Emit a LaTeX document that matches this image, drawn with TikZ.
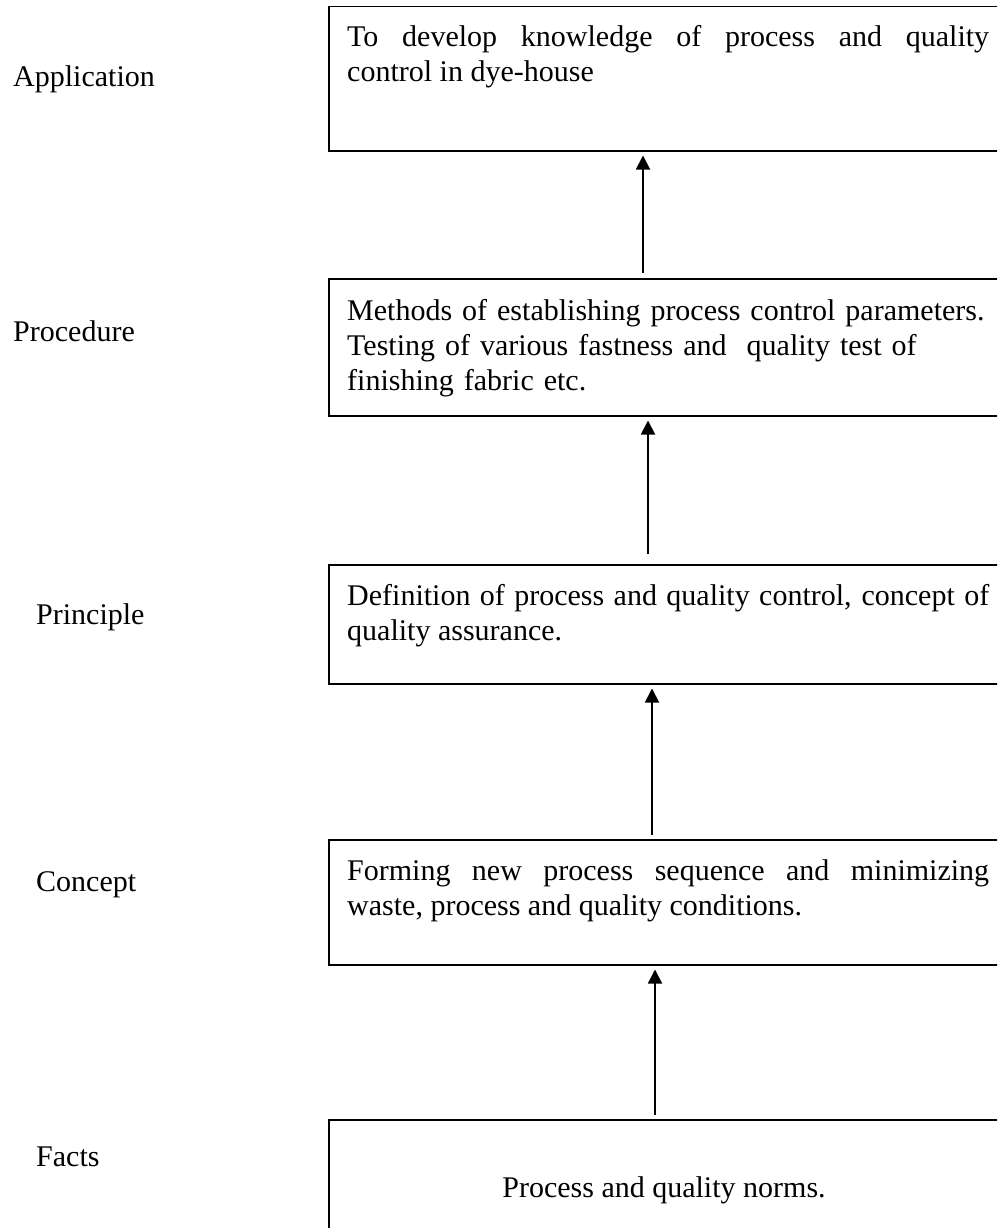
\documentclass[tikz,border=0pt]{standalone}
\usepackage{fontspec}
\setmainfont{Liberation Serif}
\usetikzlibrary{arrows.meta}
\newcommand\bodysize{\fontsize{30}{35}\selectfont}
\hyphenpenalty=10000
\exhyphenpenalty=10000
\begin{document}
\begin{tikzpicture}[x=1pt,y=-1pt,
  panel/.style={draw, line width=1.5pt, minimum width=720pt, anchor=north west, inner sep=0pt},
  body/.style={anchor=base west, text width=642pt, inner sep=0pt, font=\bodysize},
  tag/.style={anchor=base west, inner sep=0pt, font=\bodysize},
  arr/.style={line width=1.8pt, -{Triangle[width=14pt,length=14pt]}}]
\useasboundingbox (0,0) rectangle (997,1228);
\fill[white] (0,0) rectangle (997,1228);
\clip (0,0) rectangle (997,1228);

% level boxes (open to the right and, for the last one, below)
\node[panel, minimum height=144pt] (b1) at (328,6) {};
\node[panel, minimum height=137pt] (b2) at (328,278) {};
\node[panel, minimum height=119pt] (b3) at (328,564) {};
\node[panel, minimum height=125pt] (b4) at (328,839) {};
\node[panel, minimum height=160pt] (b5) at (328,1119) {};

% box texts
\node[body, align=justify] (t1) at (347,47) {To develop knowledge of process and quality\linebreak control in dye-house};
\node[body, align=left] (t2) at (347,320) {Methods of establishing process control parameters.\\Testing of various fastness and~ quality test of\\finishing fabric etc.};
\node[body, align=justify] (t3) at (347,605) {Definition of process and quality control, concept of\linebreak quality assurance.};
\node[body, align=justify] (t4) at (347,880) {Forming new process sequence and minimizing\linebreak waste, process and quality conditions.};
\node[tag, anchor=base] (t5) at (664,1197) {Process and quality norms.};

% level names
\node[tag] (l1) at (13,87) {Application};
\node[tag] (l2) at (13,341) {Procedure};
\node[tag] (l3) at (36,624) {Principle};
\node[tag] (l4) at (36,891) {Concept};
\node[tag] (l5) at (36,1166) {Facts};

% upward arrows between levels
\coordinate (c1) at (643,273);
\coordinate (c2) at (648,554);
\coordinate (c3) at (652,835);
\coordinate (c4) at (655,1115);
\draw[arr] (c1) -- ([yshift=-4pt]c1 |- b1.south);
\draw[arr] (c2) -- ([yshift=-4pt]c2 |- b2.south);
\draw[arr] (c3) -- ([yshift=-4pt]c3 |- b3.south);
\draw[arr] (c4) -- ([yshift=-4pt]c4 |- b4.south);
\end{tikzpicture}
\end{document}
